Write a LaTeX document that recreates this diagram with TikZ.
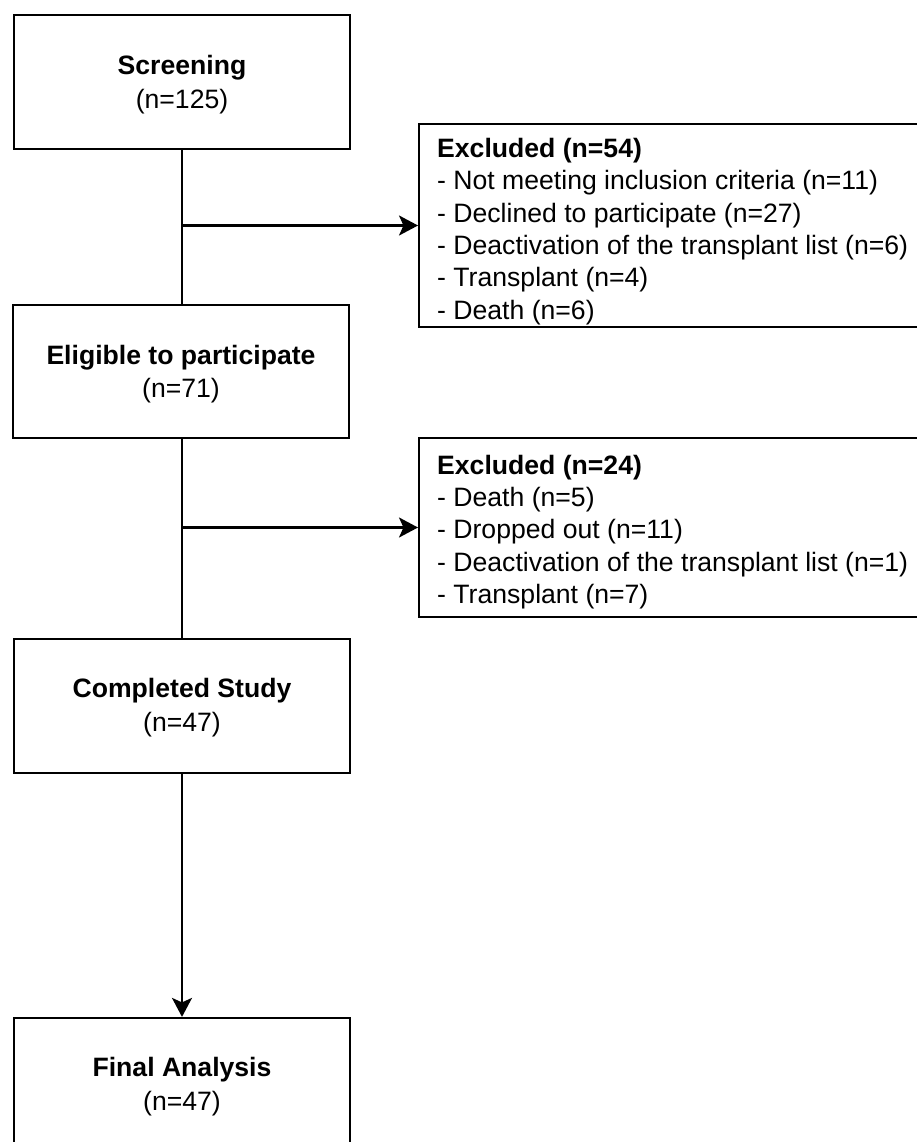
\documentclass[tikz,border=0pt]{standalone}
\usepackage{fontspec}
\setmainfont{Liberation Sans}
\usetikzlibrary{arrows.meta}
\tikzset{
  flowbox/.style={draw=black, line width=2.2pt, fill=white, minimum width=336pt, minimum height=134pt, inner sep=0pt},
  flowtext/.style={align=center, inner sep=0pt, font={\fontsize{26.6}{33.6}\selectfont}},
  exbox/.style={draw=black, line width=2.2pt, fill=white, minimum width=542pt, inner sep=0pt},
  extext/.style={align=left, inner sep=0pt, anchor=west, font={\fontsize{26.6}{32.4}\selectfont}},
  link/.style={line width=2.2pt, draw=black},
  arr/.style={link, -{Stealth[length=19pt, width=20pt, inset=4.5pt]}}
}
\begin{document}
\begin{tikzpicture}[x=1pt, y=-1pt]
\useasboundingbox (0,0) rectangle (917,1142);
\clip (0,0) rectangle (917,1142);
\fill[white] (0,0) rectangle (917,1142);
\node[flowbox] (scr) at (182,82) {};
\node[flowtext, yshift=-2.5pt] (scrt) at (scr.center) {\textbf{Screening}\\(n=125)};
\node[flowbox, minimum height=133pt] (eli) at (181,371.5) {};
\node[flowtext, yshift=-2.5pt] (elit) at (eli.center) {\textbf{Eligible to participate}\\(n=71)};
\node[flowbox] (com) at (182,706) {};
\node[flowtext, yshift=-1.5pt] (comt) at (com.center) {\textbf{Completed Study}\\(n=47)};
\node[flowbox] (fin) at (182,1085) {};
\node[flowtext, yshift=-1.5pt] (fint) at (fin.center) {\textbf{Final Analysis}\\(n=47)};
\node[exbox, minimum height=203pt, anchor=west] (ex1) at (418,225.5) {};
\node[extext, xshift=19pt, yshift=-6pt] (ex1t) at (ex1.west) {\textbf{Excluded (n=54)}\\- Not meeting inclusion criteria (n=11)\\- Declined to participate (n=27)\\- Deactivation of the transplant list (n=6)\\- Transplant (n=4)\\- Death (n=6)};
\node[exbox, minimum height=179pt, anchor=west] (ex2) at (418,527.5) {};
\node[extext, xshift=19pt, yshift=-4.5pt] (ex2t) at (ex2.west) {\textbf{Excluded (n=24)}\\- Death (n=5)\\- Dropped out (n=11)\\- Deactivation of the transplant list (n=1)\\- Transplant (n=7)};
\coordinate (j1) at (scr.south |- ex1.west);
\coordinate (j2) at (scr.south |- ex2.west);
\draw[link] (scr.south) -- (scr.south |- eli.north);
\draw[arr] (j1) -- (ex1.west);
\draw[link] (scr.south |- eli.south) -- (scr.south |- com.north);
\draw[arr] (j2) -- (ex2.west);
\draw[arr] (scr.south |- com.south) -- (scr.south |- fin.north);
\end{tikzpicture}
\end{document}
